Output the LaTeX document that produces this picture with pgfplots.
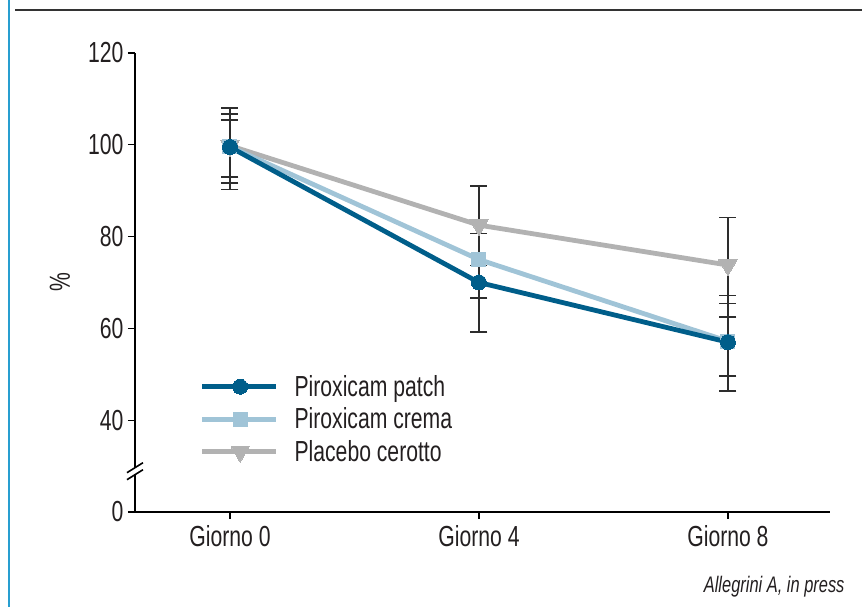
\documentclass[border=0pt]{standalone}
\usepackage{fontspec}
\setmainfont{Liberation Sans}[FakeStretch=0.73]
\usepackage{pgfplots}
\pgfplotsset{compat=1.18}
\usepackage{pgfplotstable}
\usetikzlibrary{calc}
\definecolor{patchc}{RGB}{0,94,138}
\definecolor{cremac}{RGB}{160,196,215}
\definecolor{placc}{RGB}{178,178,178}
\definecolor{errc}{RGB}{45,45,45}
\definecolor{leftblue}{RGB}{40,158,208}
\definecolor{txt}{RGB}{35,31,32}

\pgfplotstableread{
x y ep em
0 99.5 8.5 9.2
1 70.0 10.7 10.8
2 57.0 10.2 10.6
}\patchdata
\pgfplotstableread{
x y ep em
0 99.6 7.1 7.9
1 75.0 8.4 8.4
2 57.2 8.2 7.6
}\cremadata
\pgfplotstableread{
x y ep em
0 99.8 5.6 6.8
1 82.5 8.5 8.8
2 73.8 10.4 11.3
}\placdata

\begin{document}
\begin{tikzpicture}[x=1pt,y=1pt]
\path[use as bounding box] (0,0) rectangle (862,607);
\draw[color=leftblue, line width=2pt] (9,0) -- (9,607);
\draw[color=black!80, line width=1.5pt] (15,597) -- (862,597);
\begin{axis}[
  at={(135pt,95pt)}, anchor=south west,
  width=695pt, height=459pt, scale only axis,
  xmin=-0.3815, xmax=2.41, ymin=20, ymax=120,
  axis x line=bottom, axis y line=left,
  axis line style={line width=2.2pt, -, black},
  xtick={0,1,2}, xticklabels={Giorno 0, Giorno 4, Giorno 8},
  ytick={20,40,...,120}, yticklabels={0,40,60,80,100,120},
  xtick align=outside, ytick align=outside,
  major tick length=7pt,
  tick style={line width=1.3pt, black},
  tick label style={font=\fontsize{29}{34}\selectfont, text=txt},
  xticklabel style={yshift=-3pt},
  yticklabel style={xshift=-1pt},
  /pgf/number format/assume math mode=true,
  ylabel={\%},
  every axis y label/.style={at={(axis description cs:0,0.5)}, xshift=-75pt, rotate=90, anchor=center, font=\fontsize{29}{34}\selectfont, text=txt},
  clip=false,
  reverse legend,
  legend cell align=left,
  legend style={draw=none, fill=none, at={(rel axis cs:0.0929,0.298)}, anchor=north west,
    inner sep=0pt, font=\fontsize{29}{34}\selectfont, text=txt,
    nodes={inner sep=0pt}, row sep=10pt,
    /tikz/every odd column/.append style={column sep=16pt}},
  legend image code/.code={\draw[mark repeat=2, mark phase=2] plot coordinates {(0pt,0pt) (38pt,0pt) (74pt,0pt)};},
]
% error bars
\addplot[draw=none, mark=none, forget plot, error bars/.cd, y dir=both, y explicit,
  error bar style={draw=errc, line width=1.4pt},
  error mark options={draw=errc, line width=1.4pt, mark size=8.5pt, rotate=90}]
  table[x=x, y=y, y error plus=ep, y error minus=em] {\placdata};
\addplot[draw=none, mark=none, forget plot, error bars/.cd, y dir=both, y explicit,
  error bar style={draw=errc, line width=1.4pt},
  error mark options={draw=errc, line width=1.4pt, mark size=8.5pt, rotate=90}]
  table[x=x, y=y, y error plus=ep, y error minus=em] {\cremadata};
\addplot[draw=none, mark=none, forget plot, error bars/.cd, y dir=both, y explicit,
  error bar style={draw=errc, line width=1.4pt},
  error mark options={draw=errc, line width=1.4pt, mark size=8.5pt, rotate=90}]
  table[x=x, y=y, y error plus=ep, y error minus=em] {\patchdata};
% lines
\addplot[color=placc, line width=4.8pt, mark=triangle*, mark size=10.5pt, mark options={rotate=180, fill=placc, draw=placc, line width=0pt}]
  table[x=x, y=y] {\placdata};
\addlegendentry{Placebo cerotto}
\addplot[color=cremac, line width=4.8pt, mark=square*, mark size=7pt, mark options={fill=cremac, draw=cremac, line width=0pt}]
  table[x=x, y=y] {\cremadata};
\addlegendentry{Piroxicam crema}
\addplot[color=patchc, line width=4.8pt, mark=*, mark size=7.5pt, mark options={fill=patchc, draw=patchc, line width=0pt}]
  table[x=x, y=y] {\patchdata};
\addlegendentry{Piroxicam patch}
% axis break
\fill[white] ($(rel axis cs:0,0.09)+(-3pt,-4pt)$) rectangle ($(rel axis cs:0,0.09)+(3pt,3pt)$);
\draw[black, line width=1.6pt] ($(rel axis cs:0,0.09)+(-8pt,-9pt)$) -- ++(16pt,10pt);
\draw[black, line width=1.6pt] ($(rel axis cs:0,0.09)+(-8pt,-2pt)$) -- ++(16pt,10pt);
\end{axis}
\node[anchor=east, font=\fontsize{22.5}{26}\selectfont\itshape, text=txt] at (848,20) {Allegrini A, in press};
\end{tikzpicture}
\end{document}
